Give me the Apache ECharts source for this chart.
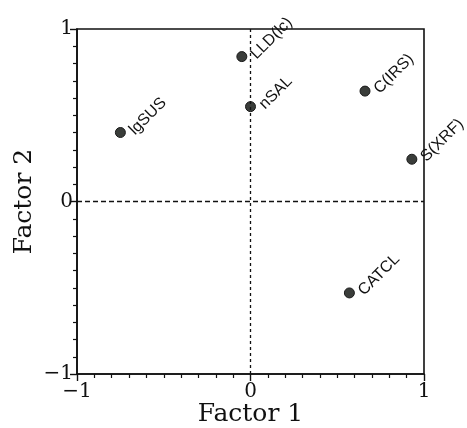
<!DOCTYPE html>
<html><head><meta charset="utf-8">
<script src="https://cdn.jsdelivr.net/npm/echarts@6/dist/echarts.min.js"></script>
<style>html,body{margin:0;padding:0;background:#fff}#c{width:467px;height:428px}</style>
</head><body><div id="c"></div>
<script>
const variables = ["lgSUS", "LLD(lc)", "nSAL", "C(IRS)", "S(XRF)", "CATCL"];
const factor1 = [-0.75, -0.05, 0.0, 0.66, 0.93, 0.57];
const factor2 = [0.40, 0.84, 0.55, 0.64, 0.245, -0.53];
const axisTitles = ["Factor 1", "Factor 2"];

const chart = echarts.init(document.getElementById('c'), null, {renderer: 'canvas'});
const serifFont = '"DejaVu Serif", "Liberation Serif", serif';
const axisCommon = {
  min: -1, max: 1, interval: 1,
  nameMoveOverlap: false,
  axisLine: {show: true, onZero: false, lineStyle: {color: '#111', width: 1.6}},
  axisTick: {show: true, inside: false, length: 7, lineStyle: {color: '#111', width: 1.4}},
  minorTick: {show: true, splitNumber: 10, length: 4, lineStyle: {color: '#111', width: 1.2}},
  splitLine: {show: false},
  axisLabel: {color: '#111', fontFamily: serifFont, fontSize: 20,
    formatter: v => (v < 0 ? '\u22121' : String(v))},
  nameLocation: 'middle',
  nameTextStyle: {color: '#111', fontFamily: serifFont, fontSize: 25}
};
chart.setOption({
  animation: false,
  grid: {left: 77, right: 43, top: 29, bottom: 54, outerBoundsMode: 'none', containLabel: false,
    show: true, borderColor: '#111', borderWidth: 1.6, backgroundColor: 'transparent'},
  xAxis: Object.assign({}, axisCommon, {type: 'value', name: axisTitles[0], nameGap: 28,
    axisLabel: Object.assign({}, axisCommon.axisLabel, {margin: 8})}),
  yAxis: Object.assign({}, axisCommon, {type: 'value', name: axisTitles[1], nameGap: 40, nameRotate: 90,
    axisLabel: Object.assign({}, axisCommon.axisLabel, {margin: 4})}),
  series: [{
    type: 'scatter',
    data: variables.map((n, i) => ({name: n, value: [factor1[i], factor2[i]]})),
    symbolSize: 10,
    itemStyle: {color: '#3a3d3a', borderColor: '#1a1a1a', borderWidth: 1, opacity: 1},
    label: {show: true, position: 'right', distance: 6, rotate: 45, formatter: '{b}',
      color: '#111', fontFamily: '"Liberation Sans", Arial, sans-serif', fontSize: 16},
    markLine: {
      silent: true, symbol: 'none', label: {show: false},
      data: [
        {xAxis: 0, lineStyle: {type: [3, 3], color: '#111', width: 1.3}},
        {yAxis: 0, lineStyle: {type: [5, 3], color: '#111', width: 1.3}}
      ]
    }
  }]
});
</script></body></html>
